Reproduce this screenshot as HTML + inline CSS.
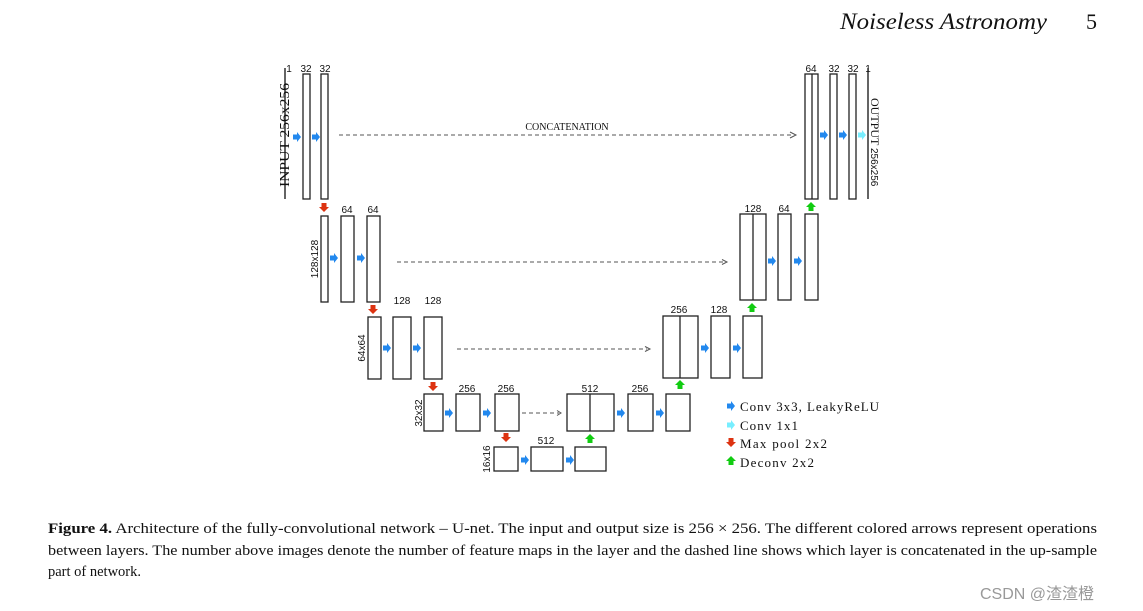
<!DOCTYPE html>
<html><head><meta charset="utf-8"><style>
html,body{margin:0;padding:0;background:#fff;}
svg{display:block;}
.s{font-family:"Liberation Sans",sans-serif;font-size:10px;fill:#111;text-anchor:middle;}
.r{font-family:"Liberation Serif",serif;fill:#111;}
.b{fill:#fff;stroke:#222;stroke-width:1.3;}
.d{stroke:#555;stroke-width:1;stroke-dasharray:4,3;fill:none;}
</style></head><body>
<svg width="1143" height="611" viewBox="0 0 1143 611" xmlns="http://www.w3.org/2000/svg">
<defs>
<g id="ab"><path d="M0,-2.5 H4 V-5 L8,0 L4,5 V2.5 H0 Z" fill="#2288ee"/></g>
<g id="ac"><path d="M0,-2.5 H4 V-5 L8,0 L4,5 V2.5 H0 Z" fill="#77eeff"/></g>
<g id="ar"><path d="M-2.5,0 V4 H-5 L0,9 L5,4 H2.5 V0 Z" fill="#dd3311"/></g>
<g id="ag"><path d="M-2.5,9 V5 H-5 L0,0 L5,5 H2.5 V9 Z" fill="#11cc11"/></g>
</defs>
<text x="840" y="29" class="r" font-size="23" font-style="italic" textLength="207" lengthAdjust="spacingAndGlyphs">Noiseless Astronomy</text>
<text x="1086" y="29" class="r" font-size="22">5</text>

<!-- level 1 left -->
<line x1="285" y1="68" x2="285" y2="199" stroke="#111" stroke-width="1.3"/>
<text class="s" x="289" y="72">1</text><text class="s" x="306" y="72">32</text><text class="s" x="325" y="72">32</text>
<text class="r" font-size="14" transform="translate(289,135) rotate(-90)" text-anchor="middle" textLength="104" lengthAdjust="spacingAndGlyphs">INPUT  256x256</text>
<rect class="b" x="303" y="74" width="7" height="125"/>
<rect class="b" x="321" y="74" width="7" height="125"/>
<use href="#ab" x="293" y="137"/><use href="#ab" x="312" y="137"/>
<line class="d" x1="339" y1="135" x2="792" y2="135"/>
<path d="M790,132 L796,135 L790,138" fill="none" stroke="#555"/>
<text class="r" font-size="10" x="567" y="130" text-anchor="middle">CONCATENATION</text>

<!-- level 1 right -->
<rect class="b" x="805" y="74" width="13" height="125"/><line x1="812" y1="74" x2="812" y2="199" stroke="#222" stroke-width="1.3"/>
<rect class="b" x="830" y="74" width="7" height="125"/>
<rect class="b" x="849" y="74" width="7" height="125"/>
<line x1="868" y1="68" x2="868" y2="199" stroke="#111" stroke-width="1.3"/>
<text class="s" x="811" y="72">64</text><text class="s" x="834" y="72">32</text><text class="s" x="853" y="72">32</text><text class="s" x="868" y="72">1</text>
<use href="#ab" x="820" y="135"/><use href="#ab" x="839" y="135"/><use href="#ac" x="858" y="135"/>
<text class="r" font-size="12" transform="translate(871,98) rotate(90)">OUTPUT</text>
<text class="s" transform="translate(871,148) rotate(90)" style="text-anchor:start">256x256</text>
<use href="#ag" x="811" y="202"/>

<!-- level 2 -->
<use href="#ar" x="324" y="203"/>
<rect class="b" x="321" y="216" width="7" height="86"/>
<rect class="b" x="341" y="216" width="13" height="86"/>
<rect class="b" x="367" y="216" width="13" height="86"/>
<text class="s" x="347" y="213">64</text><text class="s" x="373" y="213">64</text>
<text class="s" font-size="11" transform="translate(318,259) rotate(-90)">128x128</text>
<use href="#ab" x="330" y="258"/><use href="#ab" x="357" y="258"/>
<line class="d" x1="397" y1="262" x2="724" y2="262"/><path d="M722,259.5 L727,262 L722,264.5" fill="none" stroke="#555"/>
<rect class="b" x="740" y="214" width="26" height="86"/><line x1="753" y1="214" x2="753" y2="300" stroke="#222" stroke-width="1.3"/>
<rect class="b" x="778" y="214" width="13" height="86"/>
<rect class="b" x="805" y="214" width="13" height="86"/>
<text class="s" x="753" y="212">128</text><text class="s" x="784" y="212">64</text>
<use href="#ab" x="768" y="261"/><use href="#ab" x="794" y="261"/>
<use href="#ag" x="752" y="303"/>

<!-- level 3 -->
<use href="#ar" x="373" y="305"/>
<rect class="b" x="368" y="317" width="13" height="62"/>
<rect class="b" x="393" y="317" width="18" height="62"/>
<rect class="b" x="424" y="317" width="18" height="62"/>
<text class="s" x="402" y="304">128</text><text class="s" x="433" y="304">128</text>
<text class="s" font-size="11" transform="translate(365,348) rotate(-90)">64x64</text>
<use href="#ab" x="383" y="348"/><use href="#ab" x="413" y="348"/>
<line class="d" x1="457" y1="349" x2="647" y2="349"/><path d="M645,346.5 L650,349 L645,351.5" fill="none" stroke="#555"/>
<rect class="b" x="663" y="316" width="35" height="62"/><line x1="680" y1="316" x2="680" y2="378" stroke="#222" stroke-width="1.3"/>
<rect class="b" x="711" y="316" width="19" height="62"/>
<rect class="b" x="743" y="316" width="19" height="62"/>
<text class="s" x="679" y="313">256</text><text class="s" x="719" y="313">128</text>
<use href="#ab" x="701" y="348"/><use href="#ab" x="733" y="348"/>
<use href="#ag" x="680" y="380"/>

<!-- level 4 -->
<use href="#ar" x="433" y="382"/>
<rect class="b" x="424" y="394" width="19" height="37"/>
<rect class="b" x="456" y="394" width="24" height="37"/>
<rect class="b" x="495" y="394" width="24" height="37"/>
<rect class="b" x="567" y="394" width="47" height="37"/><line x1="590" y1="394" x2="590" y2="431" stroke="#222" stroke-width="1.3"/>
<rect class="b" x="628" y="394" width="25" height="37"/>
<rect class="b" x="666" y="394" width="24" height="37"/>
<text class="s" x="467" y="392">256</text><text class="s" x="506" y="392">256</text><text class="s" x="590" y="392">512</text><text class="s" x="640" y="392">256</text>
<text class="s" font-size="11" transform="translate(422,413) rotate(-90)">32x32</text>
<use href="#ab" x="445" y="413"/><use href="#ab" x="483" y="413"/><use href="#ab" x="617" y="413"/><use href="#ab" x="656" y="413"/>
<line class="d" x1="522" y1="413" x2="559" y2="413"/><path d="M557,410.5 L561,413 L557,415.5" fill="none" stroke="#555"/>

<!-- level 5 -->
<use href="#ar" x="506" y="433"/><use href="#ag" x="590" y="434"/>
<rect class="b" x="494" y="447" width="24" height="24"/>
<rect class="b" x="531" y="447" width="32" height="24"/>
<rect class="b" x="575" y="447" width="31" height="24"/>
<text class="s" x="546" y="444">512</text>
<text class="s" font-size="11" transform="translate(490,459) rotate(-90)">16x16</text>
<use href="#ab" x="521" y="460"/><use href="#ab" x="566" y="460"/>

<!-- legend -->
<use href="#ab" x="727" y="406"/><text class="r" font-size="13" x="740" y="411" textLength="139" lengthAdjust="spacing">Conv  3x3,  LeakyReLU</text>
<use href="#ac" x="727" y="425"/><text class="r" font-size="13" x="740" y="430" textLength="58" lengthAdjust="spacing">Conv  1x1</text>
<use href="#ar" x="731" y="438"/><text class="r" font-size="13" x="740" y="448" textLength="87" lengthAdjust="spacing">Max  pool  2x2</text>
<use href="#ag" x="731" y="456"/><text class="r" font-size="13" x="740" y="467" textLength="74" lengthAdjust="spacing">Deconv  2x2</text>

<!-- caption -->
<text class="r" font-size="14.5" x="48" y="533" textLength="1049" lengthAdjust="spacingAndGlyphs"><tspan font-weight="bold">Figure 4.</tspan> Architecture of the fully-convolutional network – U-net. The input and output size is 256 × 256. The different colored arrows represent operations</text>
<text class="r" font-size="14.5" x="48" y="555" textLength="1049" lengthAdjust="spacingAndGlyphs">between layers. The number above images denote the number of feature maps in the layer and the dashed line shows which layer is concatenated in the up-sample</text>
<text class="r" font-size="14.5" x="48" y="576">part of network.</text>
<text x="980" y="599" font-family="'Liberation Sans','Noto Sans CJK SC',sans-serif" font-size="16" fill="#999">CSDN @渣渣橙</text>
</svg>
</body></html>
